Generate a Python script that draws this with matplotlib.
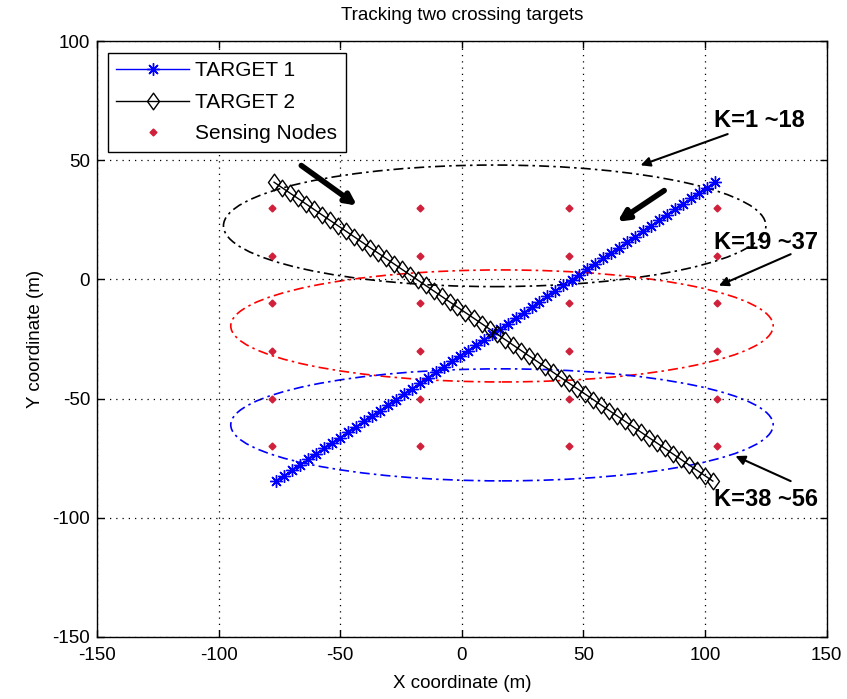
import numpy as np
import matplotlib.pyplot as plt
from matplotlib.patches import Ellipse
from matplotlib.path import Path

plt.rcParams['font.family'] = ['Liberation Sans', 'DejaVu Sans']
plt.rcParams['axes.unicode_minus'] = False

# target tracks, one sample per time step K=1..56
t1_x = [-76.3, -73.0, -69.7, -66.5, -63.2, -59.9, -56.6, -53.3, -50.1, -46.8,
        -43.5, -40.2, -36.9, -33.7, -30.4, -27.1, -23.8, -20.5, -17.3, -14.0,
        -10.7, -7.4, -4.1, -0.9, 2.4, 5.7, 9.0, 12.3, 15.5, 18.8,
        22.1, 25.4, 28.7, 31.9, 35.2, 38.5, 41.8, 45.1, 48.3, 51.6,
        54.9, 58.2, 61.5, 64.7, 68.0, 71.3, 74.6, 77.9, 81.1, 84.4,
        87.7, 91.0, 94.3, 97.5, 100.8, 104.1]
t1_y = [-84.6, -82.3, -80.0, -77.8, -75.5, -73.2, -70.9, -68.6, -66.4, -64.1,
        -61.8, -59.5, -57.2, -55.0, -52.7, -50.4, -48.1, -45.8, -43.6, -41.3,
        -39.0, -36.7, -34.4, -32.2, -29.9, -27.6, -25.3, -23.0, -20.8, -18.5,
        -16.2, -13.9, -11.6, -9.4, -7.1, -4.8, -2.5, -0.2, 2.0, 4.3,
        6.6, 8.9, 11.2, 13.4, 15.7, 18.0, 20.3, 22.6, 24.8, 27.1,
        29.4, 31.7, 34.0, 36.2, 38.5, 40.8]
t2_x = [-77.2, -73.9, -70.6, -67.4, -64.1, -60.8, -57.5, -54.2, -51.0, -47.7,
        -44.4, -41.1, -37.8, -34.6, -31.3, -28.0, -24.7, -21.4, -18.2, -14.9,
        -11.6, -8.3, -5.0, -1.8, 1.5, 4.8, 8.1, 11.4, 14.6, 17.9,
        21.2, 24.5, 27.8, 31.0, 34.3, 37.6, 40.9, 44.2, 47.4, 50.7,
        54.0, 57.3, 60.6, 63.8, 67.1, 70.4, 73.7, 77.0, 80.2, 83.5,
        86.8, 90.1, 93.4, 96.6, 99.9, 103.2]
t2_y = [40.8, 38.5, 36.2, 34.0, 31.7, 29.4, 27.1, 24.8, 22.6, 20.3,
        18.0, 15.7, 13.4, 11.2, 8.9, 6.6, 4.3, 2.0, -0.2, -2.5,
        -4.8, -7.1, -9.4, -11.6, -13.9, -16.2, -18.5, -20.8, -23.0, -25.3,
        -27.6, -29.9, -32.2, -34.4, -36.7, -39.0, -41.3, -43.6, -45.8, -48.1,
        -50.4, -52.7, -55.0, -57.2, -59.5, -61.8, -64.1, -66.4, -68.6, -70.9,
        -73.2, -75.5, -77.8, -80.0, -82.3, -84.6]

# sensing node grid
node_cols = [-78, -17, 44, 105]
node_rows = [30, 10, -10, -30, -50, -70]

# cluster regions: (cx, cy, width, height, colour, label, label pos, arrow tail, arrow head)
regions = [
    (13.5, 22.5, 223, 51, 'black', 'K=1 ~18', (103.5, 66.5), (109.3, 61.0), (73.5, 47.9)),
    (16.5, -19.5, 223, 47, 'red', 'K=19 ~37', (103.5, 15.5), (135.2, 10.6), (105.7, -2.6)),
    (16.5, -61.0, 223, 47, 'blue', 'K=38 ~56', (103.5, -92.5), (135.2, -84.6), (112.5, -74.1)),
]

# MATLAB-like diamond: a bit wider than matplotlib's thin 'd'
diamond = Path([(0, 1), (0.72, 0), (0, -1), (-0.72, 0), (0, 1)],
               [Path.MOVETO, Path.LINETO, Path.LINETO, Path.LINETO, Path.CLOSEPOLY])

fig = plt.figure(figsize=(8.47, 6.99), dpi=100)
ax = fig.add_axes([0.1145, 0.0887, 0.8615, 0.8525])

ax.plot(t1_x, t1_y, color='blue', lw=1, marker=(8, 2, 0), ms=9, mew=1,
        label='TARGET 1')
ax.plot(t2_x, t2_y, color='black', lw=1, marker=diamond, ms=12, mew=1,
        mfc='none', label='TARGET 2')
nx, ny = np.meshgrid(node_cols, node_rows)
ax.plot(nx.ravel(), ny.ravel(), ls='none', marker='D', ms=3.5, color='#d0203a',
        label='Sensing Nodes')

for cx, cy, w, h, col, txt, tpos, tail, head in regions:
    ax.add_patch(Ellipse((cx, cy), w, h, fill=False, ec=col, lw=1.2,
                         ls=(0, (6, 2.5, 1.5, 2.5))))
    ax.annotate('', xy=head, xytext=tail,
                arrowprops=dict(arrowstyle='-|>', color='black', lw=1.5,
                                mutation_scale=14, shrinkA=0, shrinkB=0))
    ax.text(tpos[0], tpos[1], txt, fontsize=17, fontweight='bold',
            va='center', ha='left')

# direction-of-motion arrows
for tail, head in [((-66.0, 47.8), (-43.1, 31.0)), ((83.2, 37.3), (64.0, 24.2))]:
    ax.annotate('', xy=head, xytext=tail,
                arrowprops=dict(arrowstyle='-|>', color='black', lw=4,
                                mutation_scale=16, shrinkA=0, shrinkB=0))

ax.set_xlim(-150, 150)
ax.set_ylim(-150, 100)
ax.set_xticks(np.arange(-150, 151, 50))
ax.set_yticks(np.arange(-150, 101, 50))
ax.tick_params(direction='in', top=True, right=True, length=5, labelsize=13.5,
               width=1)
ax.tick_params(axis='x', pad=7)
ax.tick_params(axis='y', pad=5)
ax.grid(True, color='black', ls=(0, (1, 4)), lw=0.9)
for s in ax.spines.values():
    s.set_linewidth(1)

ax.set_title('Tracking two crossing targets', fontsize=13.5, pad=15)
ax.set_xlabel('X coordinate (m)', fontsize=13.5, labelpad=8)
ax.set_ylabel('Y coordinate (m)', fontsize=13.5, labelpad=6)

leg = ax.legend(loc='upper left', bbox_to_anchor=(0.015, 0.98), borderaxespad=0,
                fontsize=15, handlelength=3.5, handletextpad=0.3, fancybox=False,
                framealpha=1, edgecolor='black', borderpad=0.4, labelspacing=0.6)
leg.get_frame().set_linewidth(1)

fig.savefig('out.png', dpi=100, facecolor='white')
